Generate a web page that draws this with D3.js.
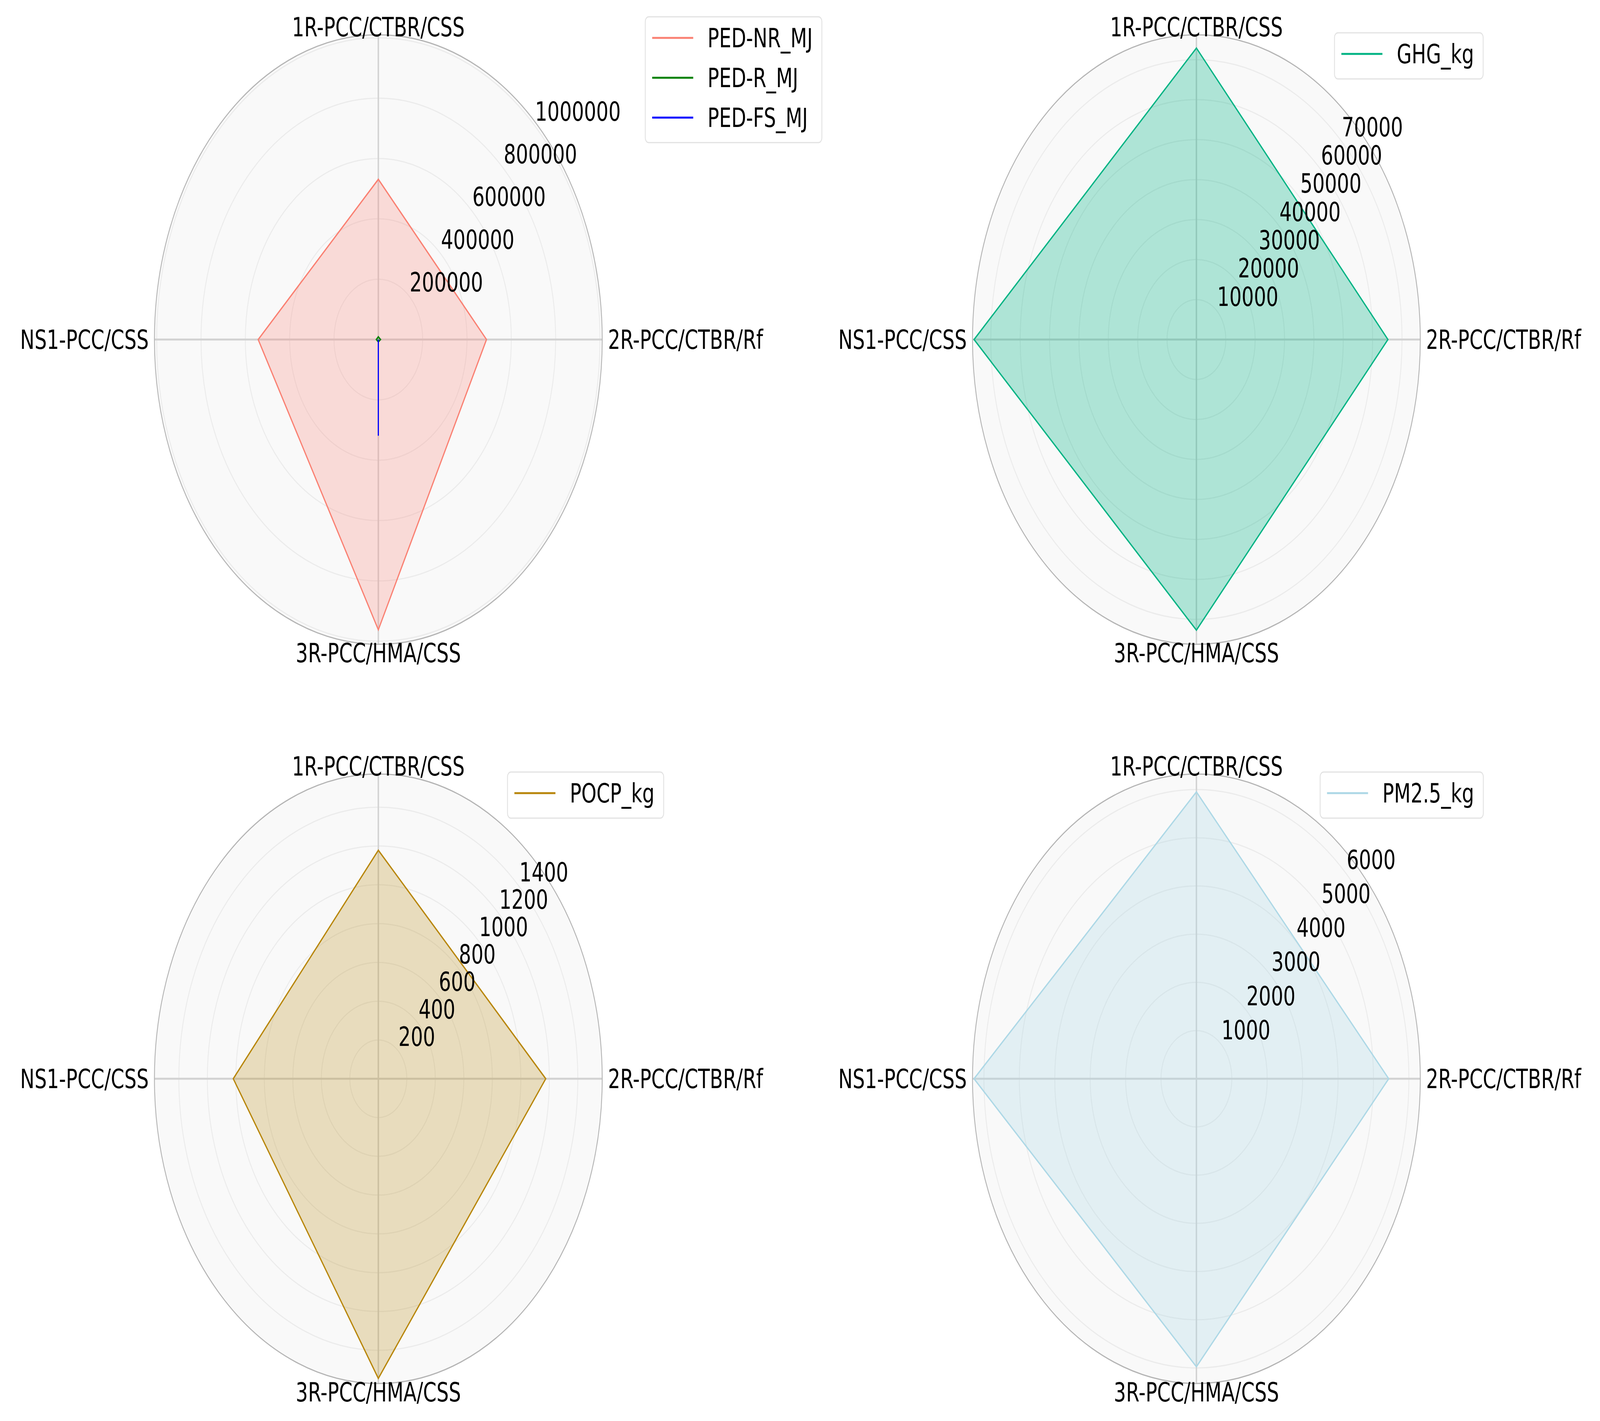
<!DOCTYPE html>
<html>
<head>
<meta charset="utf-8">
<script src="https://cdn.jsdelivr.net/npm/d3@7"></script>
<style>
  html, body { margin: 0; padding: 0; background: #fff; overflow: hidden; }
  svg { display: block; width: 100vw; height: 100vh; }
  text { font-family: "DejaVu Sans", sans-serif; fill: #000; }
</style>
</head>
<body>
<div id="chart"></div>
<script>
// categories (clockwise from top)
var categories = ["1R-PCC/CTBR/CSS", "2R-PCC/CTBR/Rf", "3R-PCC/HMA/CSS", "NS1-PCC/CSS"];

// series values
var pedNR = [531000, 488000, 962000, 542000];
var pedR = [9000, 10000, 8000, 9000];
var pedFS = [0, 0, 319000, 0];
var ghg = [72900, 65200, 72700, 75700];
var pocp = [1178, 1175, 1545, 1018];
var pm25 = [5950, 5430, 5975, 6280];

// radial tick labels
var pedTicks = [200000, 400000, 600000, 800000, 1000000];
var ghgTicks = [10000, 20000, 30000, 40000, 50000, 60000, 70000];
var pocpTicks = [200, 400, 600, 800, 1000, 1200, 1400];
var pmTicks = [1000, 2000, 3000, 4000, 5000, 6000];

var width = 5574, height = 3637;
var R = 780;
var fontSize = 67;

var panels = [
    { cx: 1318, cy: 869, ticks: pedTicks, legend: { x: 2248, y: 43 },
      series: [
          { name: "PED-NR_MJ", values: pedNR, color: "salmon", alpha: 0.25 },
          { name: "PED-R_MJ", values: pedR, color: "green", alpha: 0.25 },
          { name: "PED-FS_MJ", values: pedFS, color: "blue", alpha: 0.25 }
      ] },
    { cx: 4168, cy: 869, ticks: ghgTicks, legend: { x: 4649, y: 84 },
      series: [{ name: "GHG_kg", values: ghg, color: "#00b383", alpha: 0.3 }] },
    { cx: 1318, cy: 2761, ticks: pocpTicks, legend: { x: 1768, y: 1976 },
      series: [{ name: "POCP_kg", values: pocp, color: "darkgoldenrod", alpha: 0.25 }] },
    { cx: 4168, cy: 2761, ticks: pmTicks, legend: { x: 4599, y: 1976 },
      series: [{ name: "PM2.5_kg", values: pm25, color: "lightblue", alpha: 0.3 }] }
];

// the window is narrower than the figure, so the figure is fitted to it
var svg = d3.select("#chart")
    .append("svg")
    .attr("viewBox", "0 0 " + width + " " + height)
    .attr("preserveAspectRatio", "none");

var angle = d3.scalePoint()
    .domain(categories)
    .range([0, 2 * Math.PI * (categories.length - 1) / categories.length]);

panels.forEach(function (p) {
    var all = [];
    p.series.forEach(function (s) { all = all.concat(s.values); });
    var vmax = d3.max(all), vmin = d3.min(all);
    // rmin fixed at 0, 5% margin on the data range at the top
    var r = d3.scaleLinear()
        .domain([0, vmax + 0.05 * (vmax - vmin)])
        .range([0, R]);

    var g = svg.append("g")
        .attr("transform", "translate(" + p.cx + "," + p.cy + ")");

    // polar background
    g.append("circle").attr("r", R).attr("fill", "#f9f9f9");

    // ring gridlines
    g.selectAll(".ring")
        .data(p.ticks)
        .enter().append("circle")
        .attr("class", "ring")
        .attr("r", function (d) { return r(d); })
        .attr("fill", "none")
        .attr("stroke", "#ebebeb")
        .attr("stroke-width", 3);

    // spokes
    g.selectAll(".spoke")
        .data(categories)
        .enter().append("line")
        .attr("class", "spoke")
        .attr("x1", 0).attr("y1", 0)
        .attr("x2", function (d) { return R * Math.sin(angle(d)); })
        .attr("y2", function (d) { return -R * Math.cos(angle(d)); })
        .attr("stroke", "#d2d2d2")
        .attr("stroke-width", 5);

    // series polygons
    var radial = d3.lineRadial()
        .angle(function (d, i) { return angle(categories[i]); })
        .radius(function (d) { return r(d); })
        .curve(d3.curveLinearClosed);

    p.series.forEach(function (s) {
        g.append("path")
            .datum(s.values)
            .attr("d", radial)
            .attr("fill", s.color)
            .attr("fill-opacity", s.alpha)
            .attr("stroke", "none");
        g.append("path")
            .datum(s.values)
            .attr("d", radial)
            .attr("fill", "none")
            .attr("stroke", s.color)
            .attr("stroke-width", 4)
            .attr("stroke-linejoin", "miter");
    });

    // outer spine
    g.append("circle").attr("r", R)
        .attr("fill", "none")
        .attr("stroke", "#b4b4b4")
        .attr("stroke-width", 3);

    // radial tick labels along 45 degrees
    g.selectAll(".rlabel")
        .data(p.ticks)
        .enter().append("text")
        .attr("class", "rlabel")
        .attr("x", function (d) { return r(d) * Math.SQRT1_2; })
        .attr("y", function (d) { return -r(d) * Math.SQRT1_2 - 14; })
        .attr("font-size", fontSize)
        .attr("text-anchor", "start")
        .text(function (d) { return d3.format("d")(d); });

    // category labels
    g.selectAll(".clabel")
        .data(categories)
        .enter().append("text")
        .attr("class", "clabel")
        .attr("font-size", fontSize)
        .attr("text-anchor", function (d, i) { return i === 1 ? "start" : (i === 3 ? "end" : "middle"); })
        .attr("x", function (d, i) { return i === 1 ? R + 20 : (i === 3 ? -R - 20 : 0); })
        .attr("y", function (d, i) { return i === 0 ? -R + 4 : (i === 2 ? R + 46 : 24); })
        .text(function (d) { return d; });

    // legend
    var lg = svg.append("g")
        .attr("transform", "translate(" + p.legend.x + "," + p.legend.y + ")");
    var box = lg.append("rect")
        .attr("rx", 12).attr("ry", 12)
        .attr("fill", "#fff").attr("fill-opacity", 0.8)
        .attr("stroke", "#e2e2e2").attr("stroke-width", 3);
    var rowGap = 102, top = 54;
    var maxW = 0;
    p.series.forEach(function (s, i) {
        var yy = top + i * rowGap;
        lg.append("line")
            .attr("x1", 24).attr("x2", 167)
            .attr("y1", yy).attr("y2", yy)
            .attr("stroke", s.color)
            .attr("stroke-width", 5);
        var t = lg.append("text")
            .attr("x", 217).attr("y", yy + 24)
            .attr("font-size", fontSize)
            .text(s.name);
        maxW = Math.max(maxW, t.node().getComputedTextLength());
    });
    box.attr("width", 217 + maxW + 32)
        .attr("height", top + (p.series.length - 1) * rowGap + 64);
});
</script>
</body>
</html>
